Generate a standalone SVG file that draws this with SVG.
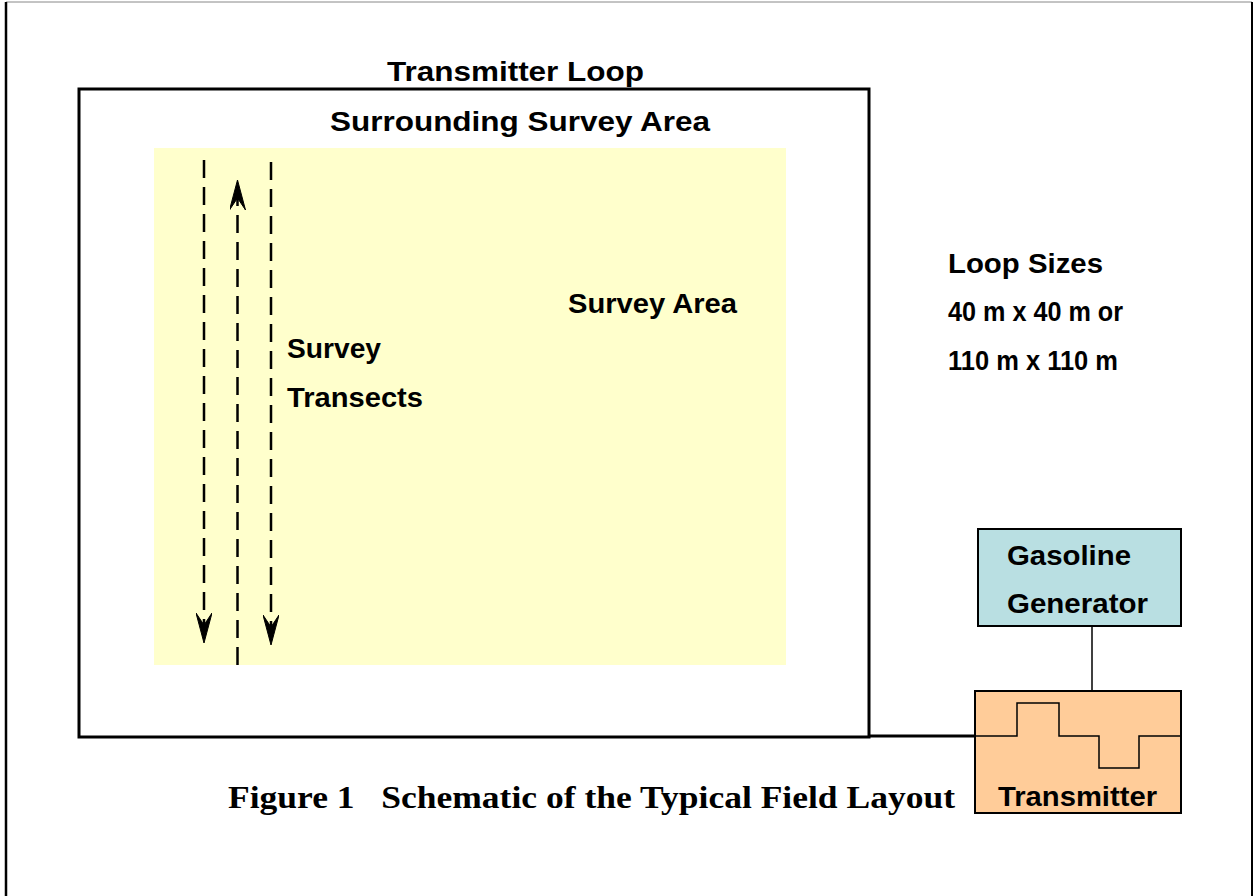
<svg xmlns="http://www.w3.org/2000/svg" width="1254" height="896" viewBox="0 0 1254 896">
<style>
.lbl{font-family:"Liberation Sans",Arial,sans-serif;font-weight:bold;font-size:28px;fill:#000}
.cap{font-family:"Liberation Serif","Times New Roman",serif;font-weight:bold;font-size:31px;fill:#000}
.dash{stroke:#000;stroke-width:2.5;stroke-dasharray:18 9;fill:none}
.thin{stroke:#000;stroke-width:1.5;fill:none}
</style>
<defs>
<marker id="arr" viewBox="0 0 30 16" markerWidth="30" markerHeight="16" refX="30" refY="8" orient="auto" markerUnits="userSpaceOnUse">
<path d="M0,0 L30,8 L0,16 L12,8 Z" fill="#000" stroke="#000" stroke-width="1"/>
</marker>
</defs>
<rect x="0" y="0" width="1254" height="896" fill="#fff"/>
<g id="page-border">
<line x1="6" y1="2" x2="1252" y2="2" stroke="#888" stroke-width="1"/>
<line x1="6" y1="2" x2="6" y2="896" stroke="#000" stroke-width="2.5"/>
<line x1="1252" y1="2" x2="1252" y2="896" stroke="#000" stroke-width="2"/>
</g>
<g id="transmitter-loop">
<rect x="79" y="89" width="790" height="648" fill="#fff" stroke="#000" stroke-width="3"/>
<text class="lbl" x="387" y="81" textLength="257" lengthAdjust="spacingAndGlyphs">Transmitter Loop</text>
<text class="lbl" x="330" y="131" textLength="380" lengthAdjust="spacingAndGlyphs">Surrounding Survey Area</text>
</g>
<g id="survey-area">
<rect x="154" y="148" width="632" height="517" fill="#FFFFCC"/>
<text class="lbl" x="568" y="313" textLength="169" lengthAdjust="spacingAndGlyphs">Survey Area</text>
</g>
<g id="transects-label">
<text class="lbl" x="287" y="358" textLength="94" lengthAdjust="spacingAndGlyphs">Survey</text>
<text class="lbl" x="287" y="407" textLength="136" lengthAdjust="spacingAndGlyphs">Transects</text>
</g>
<g id="loop-sizes">
<text class="lbl" x="948" y="273" textLength="155" lengthAdjust="spacingAndGlyphs">Loop Sizes</text>
<text class="lbl" x="948" y="321" textLength="175" lengthAdjust="spacingAndGlyphs">40 m x 40 m or</text>
<text class="lbl" x="948" y="370" textLength="170" lengthAdjust="spacingAndGlyphs">110 m x 110 m</text>
</g>
<g id="generator">
<rect x="978" y="529" width="203" height="97" fill="#B9DFE2" stroke="#000" stroke-width="2"/>
<text class="lbl" x="1007" y="565" textLength="124" lengthAdjust="spacingAndGlyphs">Gasoline</text>
<text class="lbl" x="1007" y="613" textLength="141" lengthAdjust="spacingAndGlyphs">Generator</text>
</g>
<g id="transmitter">
<rect x="975" y="691" width="206" height="122" fill="#FFCC99" stroke="#000" stroke-width="2"/>
<path class="thin" d="M975,736 H1017 V703 H1059 V736 H1099 V768 H1139 V736 H1181"/>
<text class="lbl" x="998" y="806" textLength="159" lengthAdjust="spacingAndGlyphs">Transmitter</text>
</g>
<g id="connectors">
<line x1="204" y1="160" x2="204" y2="643" class="dash" marker-end="url(#arr)"/>
<line x1="237.5" y1="665" x2="237.5" y2="180" class="dash" marker-end="url(#arr)"/>
<line x1="271" y1="162" x2="271" y2="645" class="dash" marker-end="url(#arr)"/>
<line x1="868" y1="736" x2="975" y2="736" stroke="#000" stroke-width="3"/>
<line x1="1092" y1="626" x2="1092" y2="691" class="thin"/>
</g>
<g id="caption">
<text class="cap" x="228" y="808" textLength="727" lengthAdjust="spacingAndGlyphs" xml:space="preserve">Figure 1   Schematic of the Typical Field Layout</text>
</g>
</svg>
